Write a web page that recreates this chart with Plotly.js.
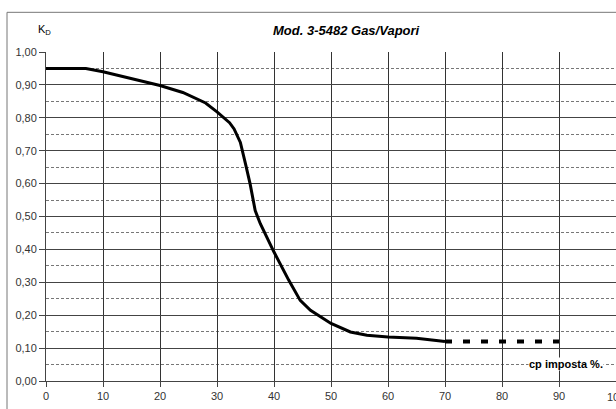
<!DOCTYPE html>
<html>
<head>
<meta charset="utf-8">
<script src="https://cdn.plot.ly/plotly-3.0.1.min.js"></script>
<style>html,body{margin:0;padding:0;background:#fff;}#chart{width:616px;height:409px;}</style>
</head>
<body>
<div id="chart"></div>
<script>
// Curve data (cp imposta %, K_D)
const cpValues = [0, 7, 10, 15, 20, 24, 26.5, 28, 30, 31.2, 32.2, 33, 34.1, 35, 35.8, 36.7, 37.6, 40, 42.6, 44.6, 46.4, 50, 53.4, 56.3, 60, 65, 70];
const kdValues = [0.95, 0.95, 0.94, 0.92, 0.898, 0.877, 0.857, 0.845, 0.818, 0.80, 0.785, 0.766, 0.725, 0.66, 0.60, 0.518, 0.478, 0.392, 0.306, 0.245, 0.215, 0.175, 0.149, 0.139, 0.134, 0.13, 0.12];
// Dashed extension
const extCp = [70, 90];
const extKd = [0.12, 0.12];
// Ticks
const xTicks = [0, 10, 20, 30, 40, 50, 60, 70, 80, 90, 100];
const yTicks = [0, 0.1, 0.2, 0.3, 0.4, 0.5, 0.6, 0.7, 0.8, 0.9, 1.0];
const titleText = "Mod. 3-5482 Gas/Vapori";
const yLabel = "K<sub>D</sub>";
const xLabel = "cp imposta %.";

const traces = [
  {x: cpValues, y: kdValues, mode: 'lines', line: {color: '#000', width: 3}, hoverinfo: 'skip', cliponaxis: false},
  {x: extCp, y: extKd, mode: 'lines', line: {color: '#000', width: 4, dash: '7px,11px'}, hoverinfo: 'skip', cliponaxis: false}
];

const layout = {
  width: 616, height: 409,
  margin: {l: 46, r: 0, t: 52, b: 28},
  paper_bgcolor: '#fff', plot_bgcolor: '#fff',
  showlegend: false,
  separators: ',.',
  font: {family: '"Liberation Sans", Arial, sans-serif', size: 11, color: '#333'},
  xaxis: {
    range: [0, 100], tickvals: xTicks, ticktext: xTicks.map(String),
    showgrid: true, gridcolor: '#333', gridwidth: 1,
    showline: true, linecolor: '#444', linewidth: 1,
    ticks: 'outside', ticklen: 5, tickcolor: '#444',
    zeroline: false, fixedrange: true,
    tickfont: {size: 11, color: '#333'}
  },
  yaxis: {
    range: [0, 1.0], tickvals: yTicks, tickformat: '.2f',
    showgrid: true, gridcolor: '#444', gridwidth: 1,
    showline: true, linecolor: '#444', linewidth: 1,
    ticks: 'outside', ticklen: 6, tickcolor: '#444',
    zeroline: false, fixedrange: true,
    tickfont: {size: 11, color: '#333'},
    minor: {dtick: 0.05, showgrid: true, gridcolor: '#777', gridwidth: 1, griddash: '3px,2px', ticks: ''}
  },
  shapes: [
    {type: 'rect', xref: 'paper', yref: 'paper', x0: -0.0684, x1: 1.2, y0: -0.3, y1: 1.1206,
     line: {color: '#777', width: 1}, fillcolor: 'rgba(0,0,0,0)', layer: 'below'}
  ],
  annotations: [
    {text: '<b><i>' + titleText + '</i></b>', xref: 'paper', yref: 'paper', x: 0.528, y: 1.066,
     showarrow: false, font: {size: 13, color: '#000'}, xanchor: 'center', yanchor: 'middle'},
    {text: yLabel, xref: 'paper', yref: 'paper', x: -0.003, y: 1.066,
     showarrow: false, font: {size: 11, color: '#000'}, xanchor: 'center', yanchor: 'middle'},
    {text: '<b>' + xLabel + '</b>', xref: 'x', yref: 'y', x: 91.2, y: 0.052,
     showarrow: false, font: {size: 11, color: '#000'}, bgcolor: '#fff', borderpad: 0,
     xanchor: 'center', yanchor: 'middle'},
    {text: '100', xref: 'x', yref: 'paper', x: 100, y: 0, yshift: -16,
     showarrow: false, font: {size: 11, color: '#333'}, xanchor: 'center', yanchor: 'middle'}
  ]
};

Plotly.newPlot('chart', traces, layout, {staticPlot: true, displayModeBar: false});
</script>
</body>
</html>
